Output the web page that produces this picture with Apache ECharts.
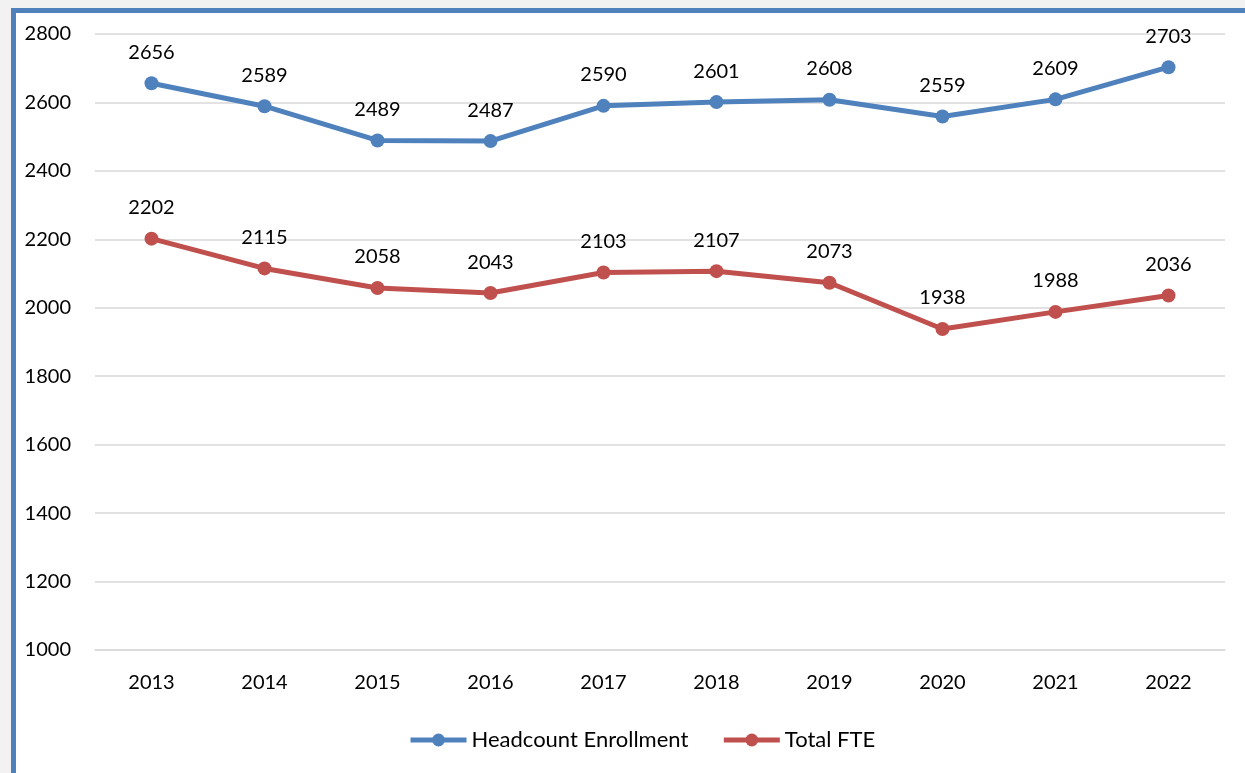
<!DOCTYPE html>
<html>
<head>
<meta charset="utf-8">
<script src="https://cdn.jsdelivr.net/npm/echarts@6/dist/echarts.min.js"></script>
<style>
  body { margin: 0; background: #f2f2f2; overflow: hidden; }
  #frame { position: absolute; left: 11px; top: 8px; width: 1400px; height: 900px;
           border-left: 5px solid #4f81bd; border-top: 5px solid #4f81bd; background: #fff; }
  #main { position: absolute; left: 0; top: 0; width: 1245px; height: 773px; }
</style>
</head>
<body>
<div id="frame"></div>
<div id="main"></div>
<script>
// 年份
let years = ['2013', '2014', '2015', '2016', '2017', '2018', '2019', '2020', '2021', '2022'];
// 人数
let headcount = [2656, 2589, 2489, 2487, 2590, 2601, 2608, 2559, 2609, 2703];
let totalFte = [2202, 2115, 2058, 2043, 2103, 2107, 2073, 1938, 1988, 2036];

let myChart = echarts.init(document.getElementById('main'));

let font = 'Lato, "Open Sans", sans-serif';

function makeSeries(name, data, color) {
    return {
        name: name,
        type: 'line',
        data: data,
        symbol: 'circle',
        symbolSize: 14,
        lineStyle: { width: 5, color: color },
        itemStyle: { color: color },
        label: {
            show: true,
            position: 'top',
            distance: 14,
            color: '#000',
            fontSize: 20,
            fontFamily: font
        }
    };
}

let option = {
    backgroundColor: 'transparent',
    animation: false,
    grid: { left: 95, right: 20, top: 34, bottom: 123 },
    legend: {
        bottom: 17,
        left: 403,
        itemWidth: 56,
        itemHeight: 16,
        itemGap: 33,
        lineStyle: { width: 5 },
        textStyle: { fontSize: 22, color: '#000', fontFamily: font },
        data: ['Headcount Enrollment', 'Total FTE']
    },
    xAxis: {
        type: 'category',
        data: years,
        axisLine: { lineStyle: { color: '#d9d9d9', width: 1.5 } },
        axisTick: { show: false },
        axisLabel: { fontSize: 20, color: '#000', margin: 23, fontFamily: font }
    },
    yAxis: {
        type: 'value',
        min: 1000,
        max: 2800,
        interval: 200,
        axisLabel: {
            fontSize: 20, color: '#000', margin: 24, fontFamily: font,
            formatter: function (v) { return String(v); }
        },
        splitLine: { lineStyle: { color: '#d9d9d9', width: 1.5 } }
    },
    series: [
        makeSeries('Headcount Enrollment', headcount, '#4f81bd'),
        makeSeries('Total FTE', totalFte, '#c0504d')
    ]
};

myChart.setOption(option);
</script>
</body>
</html>
